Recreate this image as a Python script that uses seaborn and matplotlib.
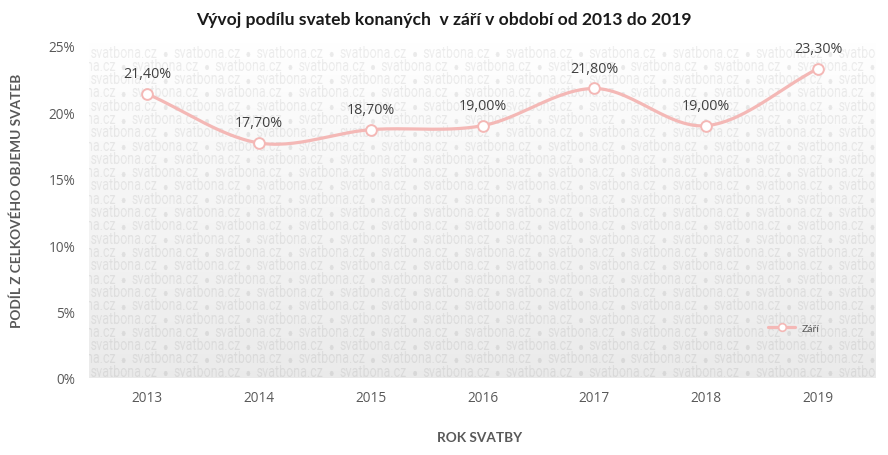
import numpy as np
import pandas as pd
import matplotlib
matplotlib.use("Agg")
import matplotlib.pyplot as plt
import seaborn as sns
from matplotlib.lines import Line2D

years = ["2013", "2014", "2015", "2016", "2017", "2018", "2019"]
values = [21.4, 17.7, 18.7, 19.0, 21.8, 19.0, 23.3]
labels = ["21,40%", "17,70%", "18,70%", "19,00%", "21,80%", "19,00%", "23,30%"]
yticks = [0, 5, 10, 15, 20, 25]
ytick_labels = ["0%", "5%", "10%", "15%", "20%", "25%"]

sns.set_theme(style="white")
plt.rcParams["font.family"] = ["Lato", "DejaVu Sans"]

W, H = 888, 456
L, R, T, B = 89, 875, 43, 379

# ---- watermark rendered off-screen into an image ----
wm_fs = 11.5
tmp = plt.figure(figsize=(4, 1), dpi=100)
tt = tmp.text(0, 0.5, "svatbona.cz", fontsize=wm_fs, family=["Roboto", "DejaVu Sans"])
tmp.canvas.draw()
tw = tt.get_window_extent().width
plt.close(tmp)
sc = tw / 67.0
Wb, Hb = int(round((R - L) * sc)), (B - T)
fig2 = plt.figure(figsize=(Wb / 100, Hb / 100), dpi=100)
fig2.patch.set_alpha(0)
ax2 = fig2.add_axes([0, 0, 1, 1])
ax2.set_xlim(0, Wb); ax2.set_ylim(Hb, 0); ax2.axis("off")
ax2.patch.set_alpha(0)
i = 0
while True:
    yy = 11 + 13.3 * i
    if yy > Hb + 8:
        break
    xs = (1 - (41.5 if i % 2 else 0)) * sc
    for k in range(12):
        xk = xs + k * 83 * sc
        ax2.text(xk, yy, "svatbona.cz", fontsize=wm_fs, color="black", alpha=0.08,
                 family=["Roboto", "DejaVu Sans"], ha="left", va="center")
        ax2.plot([xk + 75 * sc], [yy + 1], "o", color="black", alpha=0.08, markersize=3.8,
                 markeredgewidth=0)
    i += 1
fig2.canvas.draw()
wm = np.asarray(fig2.canvas.buffer_rgba()).copy()
plt.close(fig2)

# ---- main figure ----
fig = plt.figure(figsize=(W / 100, H / 100), dpi=100)
ax = fig.add_axes([L / W, 1 - B / H, (R - L) / W, (B - T) / H])
ymax = 25 * (B - T) / (B - 47)
x0, x1 = -0.519, 6.51
ax.set_xlim(x0, x1)
ax.set_ylim(0, ymax)

grad = np.linspace(1.0, 0.92, 256).reshape(-1, 1)
ax.imshow(np.dstack([grad, grad, grad]), extent=[x0, x1, 0, ymax],
          aspect="auto", origin="upper", zorder=0)
ax.imshow(wm, extent=[x0, x1, 0, ymax], aspect="auto", origin="upper", zorder=1,
          interpolation="antialiased")

# smoothed line (Bezier through the data points, rendering only)
x = np.arange(len(values), dtype=float)
y = np.array(values, dtype=float)
px = np.concatenate([[x[0] - (x[1] - x[0])], x, [x[-1] + (x[-1] - x[-2])]])
py = np.concatenate([[y[0] - (y[1] - y[0])], y, [y[-1] + (y[-1] - y[-2])]])
sx, sy = [], []
for k in range(1, len(px) - 2):
    t = np.linspace(0, 1, 30)[:, None]
    p0, p1, p2, p3 = [np.array([px[j], py[j]]) for j in (k - 1, k, k + 1, k + 2)]
    c1 = p1 + (p2 - p0) / 6
    c2 = p2 - (p3 - p1) / 6
    pts = (1 - t) ** 3 * p1 + 3 * (1 - t) ** 2 * t * c1 + 3 * (1 - t) * t ** 2 * c2 + t ** 3 * p2
    sx.extend(pts[:, 0]); sy.extend(pts[:, 1])
smooth = pd.DataFrame({"x": sx, "y": sy})
col = "#F4B8B6"
sns.lineplot(data=smooth, x="x", y="y", ax=ax, color=col, linewidth=2.3, sort=False,
             zorder=3, legend=False)
df = pd.DataFrame({"x": x, "y": y})
sns.scatterplot(data=df, x="x", y="y", ax=ax, s=60, color="white", edgecolor=col,
                linewidth=1.4, zorder=4, legend=False)

for xi, yi, lab in zip(x, y, labels):
    ax.annotate(lab, (xi, yi), xytext=(0, 14.5), textcoords="offset points",
                ha="center", va="center", fontsize=10.3, color="#404040", zorder=5,
                family=["Open Sans", "DejaVu Sans"])

ax.set_xticks(x)
ax.set_xticklabels(years)
ax.set_yticks(yticks)
ax.set_yticklabels(ytick_labels)
ax.tick_params(axis="both", length=0, labelsize=9.8, colors="#595959")
ax.tick_params(axis="x", pad=9)
ax.tick_params(axis="y", pad=10)
for lab in ax.get_xticklabels() + ax.get_yticklabels():
    lab.set_family(["Open Sans", "DejaVu Sans"])
for s in ax.spines.values():
    s.set_visible(False)
ax.set_xlabel("")
ax.set_ylabel("")

fig.text(444 / W, 1 - 20 / H, "Vývoj podílu svateb konaných  v září v období od 2013 do 2019",
         ha="center", va="center", fontsize=12.6, fontweight="bold", color="#1a1a1a")
fig.text(17 / W, 1 - 201 / H, "PODÍL Z CELKOVÉHO OBJEMU SVATEB", rotation=90,
         ha="center", va="center", fontsize=9.8, fontweight="bold", color="#595959")
fig.text(480 / W, 1 - 438 / H, "ROK SVATBY", ha="center", va="center",
         fontsize=9.8, fontweight="bold", color="#595959")

h = Line2D([], [], color=col, linewidth=2.3, marker="o", markersize=5.5,
           markerfacecolor="white", markeredgecolor=col, markeredgewidth=1.2)
leg = ax.legend([h], ["Září"], loc="center",
                bbox_to_anchor=((794 - L) / (R - L), 1 - (329 - T) / (B - T)),
                frameon=False, fontsize=7.5, handlelength=2.6, handletextpad=0.6)
for t in leg.get_texts():
    t.set_color("#595959")

fig.savefig("out.png", dpi=100, facecolor="white")
